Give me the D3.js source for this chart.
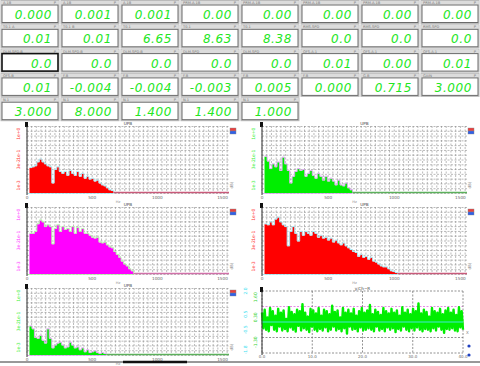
<!DOCTYPE html>
<html><head><meta charset="utf-8">
<script src="https://cdn.jsdelivr.net/npm/d3@7"></script>
<style>html,body{margin:0;padding:0;background:#fff;}svg{display:block;}</style>
</head><body>
<svg id="c" width="480" height="366"></svg>
<script>
// ---------- data ----------
const displayLabels = [
  ["A.1B","A.1B","A.1B","PRM.A.1B","PRM.A.1B","PRM.A.1B","PRM.A.1B","PRM.A.1B"],
  ["T0.1 A","T0.1 B","T0.1","T0.1","T0.1 ","RMS.SPD","RMS.SPD","RMS.SPD"],
  ["DLM.SPD.B","DLM.SPD.B","DLM.SPD.B","DLM.SPD","DLM.SPD","OFS.A.1","OFS.A.1","OFS.A.1"],
  ["OFS.B","F.B","F.B","F.B","F.B","F.B","G.B","GAIN"],
  ["N.1","N.1","N.1","N.1","N.1"]
];
const displayValues = [
  ["0.000","0.001","0.001","0.00","0.00","0.00","0.00","0.00"],
  ["0.01","0.01","6.65","8.63","8.38","0.0","0.0","0.0"],
  ["0.0","0.0","0.0","0.0","0.0","0.01","0.00","0.01"],
  ["0.01","-0.004","-0.004","-0.003","0.005","0.000","0.715","3.000"],
  ["3.000","8.000","1.400","1.400","1.000"]
];
const selectedBox = [2, 0];

const binWidth = 19;
const xDomainMax = 1550;
const xTickVals = [0, 500, 1000, 1500];
const xTickLabels = ["0", "500", "1000", "1500"];
const yTickVals = [62, 40, 30, 8];
const yTickLabels = ["1e+0", "1e-1", "3e-2", "1e-3"];

const spec1 = [26,27,28,32,35,32,30,28,27,10,24,27,22,20,22,18,23,20,18,22,17,20,15,17,14,15,12,13,10,8,7,5,3,2];
const spec2 = [38,33,25,30,27,32,23,37,30,23,10,17,22,25,23,24,17,20,23,18,15,20,17,13,17,12,15,12,8,13,8,7,10,5,3];
const spec3 = [42,42,44,52,56,54,49,51,49,31,47,51,44,49,46,47,44,49,42,48,44,47,42,42,40,38,37,38,33,32,33,30,28,27,23,20,17,13,10,8,5,3];
const spec4 = [52,51,54,51,57,59,54,51,49,29,44,49,42,34,44,40,44,42,40,44,42,38,40,37,38,35,37,33,35,32,30,32,29,27,25,23,22,18,20,17,18,15,17,13,12,10,8,7,7,5,3,2,1];
const spec5 = [30,27,18,17,20,15,12,27,17,7,10,12,13,10,7,8,13,10,7,8,5,7,3,5,2,3,4,2,1,2,1];

const tsTickVals = [0, 10, 20, 30, 40];
const tsTickLabels = ["0.0", "10.0", "20.0", "30.0", "40.0"];
const tsNoise = [0.6,-0.4,0.8,-0.5,0.3,-0.6,0.9,-0.2,0.7,-0.5,0.4,-0.6,0.85,-0.3,0.6,-0.55,0.75,-0.45,0.2,-0.6,
 0.95,-0.35,0.65,-0.5,0.5,-0.62,0.8,-0.25,0.7,-0.55,1.15,-0.4,0.6,-0.5,0.35,-0.65,0.85,-0.3,0.75,-0.5,
 0.55,-0.6,0.9,-0.45,0.4,-0.55,0.8,-0.35,0.7,-0.6,0.5,-0.5,1.05,-0.3,0.65,-0.55,0.75,-0.45,0.3,-0.6,
 0.9,-0.4,0.6,-0.75,0.8,-0.3,0.55,-0.5,0.85,-0.45,0.4,-0.6,0.7,-0.35,0.9,-0.55,0.6,-0.5,0.75,-0.4,
 1.1,-0.5,0.5,-0.6,0.8,-0.3,0.65,-0.55,0.45,-0.45,0.9,-0.6,0.7,-0.35,0.55,-0.5,0.85,-0.4,0.6,-0.65,
 0.75,-0.45,0.4,-0.55,0.95,-0.3,0.6,-0.5,0.8,-0.6,0.5,-0.4,0.85,-0.55,0.7,-0.35,1.2,-0.5,0.55,-0.6,
 0.8,-0.45,0.65,-0.5,0.35,-0.6,0.9,-0.4,0.7,-0.55,0.6,-0.3,0.85,-0.5,0.5,-0.7,0.75,-0.45,0.9,-0.5,
 0.6,-0.4,0.8,-0.55,0.45,-0.6,0.95,-0.35,0.7,-0.5];
const tsMean = [0, 0];

// ---------- drawing ----------
const svg = d3.select("#c");

// display boxes
const boxW = 58, boxH = 23, colStep = 60, rowStep = 24.3;
displayValues.forEach((row, r) => {
  row.forEach((val, c) => {
    const bx = 1 + c * colStep, by = r * rowStep + 0.5;
    const g = svg.append("g").attr("transform", `translate(${bx},${by})`);
    g.append("rect").attr("x", 0).attr("y", 0).attr("width", boxW).attr("height", boxH)
      .attr("fill", "#f0f0f0").attr("stroke", "#bbb").attr("stroke-width", 1);
    g.append("rect").attr("x", 0.5).attr("y", 0.5).attr("width", boxW - 1).attr("height", 3.5)
      .attr("fill", "#dcdcdc");
    g.append("text").attr("x", 2).attr("y", 3.6).attr("font-size", 3.6)
      .attr("font-family", "DejaVu Sans").attr("fill", "#777").text(displayLabels[r][c]);
    g.append("text").attr("x", boxW - 3).attr("y", 3.6).attr("font-size", 3.6).attr("text-anchor", "end")
      .attr("font-family", "DejaVu Sans").attr("fill", "#777").text("P");
    const sel = (r === selectedBox[0] && c === selectedBox[1]);
    g.append("rect").attr("x", 1).attr("y", 4.5).attr("width", boxW - 2).attr("height", boxH - 5.5)
      .attr("fill", "#fff").attr("stroke", sel ? "#111" : "#6a6a6a").attr("stroke-width", sel ? 1.6 : 1);
    g.append("text").attr("x", boxW - 7).attr("y", 18.6).attr("text-anchor", "end")
      .attr("font-family", "DejaVu Sans").attr("font-style", "italic").attr("font-size", 12)
      .attr("letter-spacing", 0.6).attr("fill", "#22e622").text(val);
  });
});

// histograms
const cols = [{x0: 27, x1: 229}, {x0: 262, x1: 467}];
const rowTops = [126, 207, 288];
const plotH = 67;
const charts = [
  {col: 0, row: 0, values: spec1, color: "#ff0000", outline: "#a8e8f4", tail: "#c85a7a"},
  {col: 1, row: 0, values: spec2, color: "#00ee00", outline: "#d8a8ec", tail: "#5cb05c"},
  {col: 0, row: 1, values: spec3, color: "#ff00ff", outline: "#b4f0a8", tail: "#d070a8"},
  {col: 1, row: 1, values: spec4, color: "#ff0000", outline: "#a8e8f4", tail: "#c85a7a"},
  {col: 0, row: 2, values: spec5, color: "#00ee00", outline: "#e0a8f0", tail: "#5cb05c"}
];

function frame(g, x0, x1, top, bottom, title) {
  g.append("text").attr("x", (x0 + x1) / 2).attr("y", top - 1.5).attr("text-anchor", "middle")
    .attr("font-size", 4.2).attr("font-family", "DejaVu Sans").attr("fill", "#444").text(title);
  g.append("rect").attr("x", x0 - 2).attr("y", top - 4).attr("width", 3).attr("height", 5).attr("fill", "#111");
  g.append("line").attr("x1", x0).attr("x2", x0).attr("y1", top).attr("y2", bottom + 2)
    .attr("stroke", "#333").attr("stroke-width", 1);
}

charts.forEach(ch => {
  const {x0, x1} = cols[ch.col];
  const top = rowTops[ch.row], bottom = top + plotH;
  const x = d3.scaleLinear().domain([0, xDomainMax]).range([x0, x1]);
  const y = d3.scaleLinear().domain([0, 70]).range([bottom, top]);
  const g = svg.append("g");

  // grid
  const hGrid = d3.range(0, 71, 5);
  g.selectAll(".hg").data(hGrid).join("line")
    .attr("x1", x0).attr("x2", x1).attr("y1", d => y(d) + 0.5).attr("y2", d => y(d) + 0.5)
    .attr("stroke", "#808080").attr("stroke-width", 0.55).attr("stroke-dasharray", "2,1.5");
  const vGrid = d3.range(0, xDomainMax + 1, 500 / 14);
  g.selectAll(".vg").data(vGrid).join("line")
    .attr("x1", d => x(d)).attr("x2", d => x(d)).attr("y1", top).attr("y2", bottom)
    .attr("stroke", "#808080").attr("stroke-width", 0.55).attr("stroke-dasharray", "2,1.5");

  // bars as step area
  const pts = ch.values.map((v, i) => ({f: binWidth * (i + 1), v}));
  const endF = binWidth * (ch.values.length + 1);
  pts.push({f: endF, v: 0});
  const area = d3.area().x(d => x(d.f)).y0(y(0)).y1(d => y(d.v)).curve(d3.curveStepAfter);
  g.append("path").datum(pts).attr("d", area).attr("fill", ch.color);
  const line = d3.line().x(d => x(d.f)).y(d => y(d.v) - 0.5).curve(d3.curveStepAfter);
  g.append("path").datum(pts).attr("d", line).attr("fill", "none")
    .attr("stroke", ch.outline).attr("stroke-width", 0.9);
  // zero tail
  g.append("line").attr("x1", x(endF)).attr("x2", x1).attr("y1", y(0) - 0.5).attr("y2", y(0) - 0.5)
    .attr("stroke", ch.tail).attr("stroke-width", 1.3);
  g.append("line").attr("x1", x0).attr("x2", x(endF)).attr("y1", y(0) + 0.5).attr("y2", y(0) + 0.5)
    .attr("stroke", ch.outline).attr("stroke-width", 0.8);

  frame(g, x0, x1, top, bottom, "UPB");

  // y tick labels (rotated)
  yTickVals.forEach((v, i) => {
    g.append("text").attr("transform", `translate(${x0 - 7},${y(v)}) rotate(-90)`)
      .attr("text-anchor", "middle").attr("font-size", 4.5).attr("font-family", "DejaVu Sans")
      .attr("fill", ch.color).attr("opacity", 0.8).text(yTickLabels[i]);
  });
  // x tick labels
  xTickVals.forEach((v, i) => {
    g.append("text").attr("x", x(v)).attr("y", bottom + 5.5).attr("text-anchor", "middle")
      .attr("font-size", 4.2).attr("font-family", "DejaVu Sans").attr("fill", "#666").text(xTickLabels[i]);
  });
  g.append("text").attr("x", (x0 + x1) / 2 - 10).attr("y", bottom + 10).attr("text-anchor", "middle")
    .attr("font-size", 3.6).attr("font-family", "DejaVu Sans").attr("fill", "#888").text("Hz");
  g.append("text").attr("transform", `translate(${x1 + 4},${bottom - 8}) rotate(-90)`)
    .attr("text-anchor", "middle").attr("font-size", 4).attr("font-family", "DejaVu Sans")
    .attr("fill", "#777").text("dB)");

  // legend
  g.append("rect").attr("x", x1 + 1).attr("y", top + 2).attr("width", 6).attr("height", 3)
    .attr("fill", "#e84040").attr("stroke", "#888").attr("stroke-width", 0.4);
  g.append("rect").attr("x", x1 + 1).attr("y", top + 5).attr("width", 6).attr("height", 3)
    .attr("fill", "#3060e8").attr("stroke", "#888").attr("stroke-width", 0.4);
});

// time series chart
(function () {
  const x0 = 262, x1 = 463, top = 291, bottom = 353;
  const x = d3.scaleLinear().domain([0, 40]).range([x0, x1]);
  const y = d3.scaleLinear().domain([-2, 2]).range([bottom, top]);
  const g = svg.append("g");
  [-2, 2, -1].forEach(v => g.append("line").attr("x1", x0).attr("x2", x1).attr("y1", y(v)).attr("y2", y(v))
    .attr("stroke", "#777").attr("stroke-width", 0.8).attr("stroke-dasharray", "2,1.5"));
  g.append("line").attr("x1", x0).attr("x2", x1).attr("y1", y(1)).attr("y2", y(1))
    .attr("stroke", "#e070e0").attr("stroke-width", 0.8).attr("stroke-dasharray", "2,1.5");
  tsTickVals.forEach(v => g.append("line").attr("x1", x(v)).attr("x2", x(v)).attr("y1", top).attr("y2", bottom)
    .attr("stroke", "#777").attr("stroke-width", 0.8).attr("stroke-dasharray", "2,1.5"));
  const xs = d3.scaleLinear().domain([0, tsNoise.length - 1]).range([0, 40]);
  const line = d3.line().x((d, i) => x(xs(i))).y(d => y(d));
  g.append("path").datum(tsNoise).attr("d", line).attr("fill", "none")
    .attr("stroke", "#00ee00").attr("stroke-width", 2.4).attr("stroke-linejoin", "round");
  g.append("line").attr("x1", x(0)).attr("x2", x(40)).attr("y1", y(tsMean[0])).attr("y2", y(tsMean[1]))
    .attr("stroke", "#40e8d8").attr("stroke-width", 1.2);
  frame(g, x0, x1, top, bottom, "y:Ch~R");
  tsTickVals.forEach((v, i) => g.append("text").attr("x", x(v)).attr("y", bottom + 4.5)
    .attr("text-anchor", "middle").attr("font-size", 4).attr("font-family", "DejaVu Sans")
    .attr("fill", "#666").text(tsTickLabels[i]));
  [2, 0.5, -0.5, -1.8].forEach(v => g.append("text")
    .attr("transform", `translate(${x0 - 15},${y(v)}) rotate(-90)`).attr("text-anchor", "middle")
    .attr("font-size", 4.5).attr("font-family", "DejaVu Sans").attr("fill", "#40e0f0").text(v.toFixed(1)));
  [1.6, 0.3, -1.3].forEach(v => g.append("text")
    .attr("transform", `translate(${x0 - 5},${y(v)}) rotate(-90)`).attr("text-anchor", "middle")
    .attr("font-size", 4.5).attr("font-family", "DejaVu Sans").attr("fill", "#30d030").text(v.toFixed(2)));
  g.append("text").attr("x", x1 + 3).attr("y", 334).attr("font-size", 4).attr("font-family", "DejaVu Sans")
    .attr("fill", "#777").text("X");
  [346, 355].forEach(cy => g.append("circle").attr("cx", 469).attr("cy", cy).attr("r", 1.6).attr("fill", "#2040c0"));
})();

// bottom bar
svg.append("line").attr("x1", 0).attr("x2", 480).attr("y1", 362).attr("y2", 362)
  .attr("stroke", "#333").attr("stroke-width", 1);
svg.append("line").attr("x1", 123).attr("x2", 187).attr("y1", 362).attr("y2", 362)
  .attr("stroke", "#111").attr("stroke-width", 2.5);
</script>
</body></html>
